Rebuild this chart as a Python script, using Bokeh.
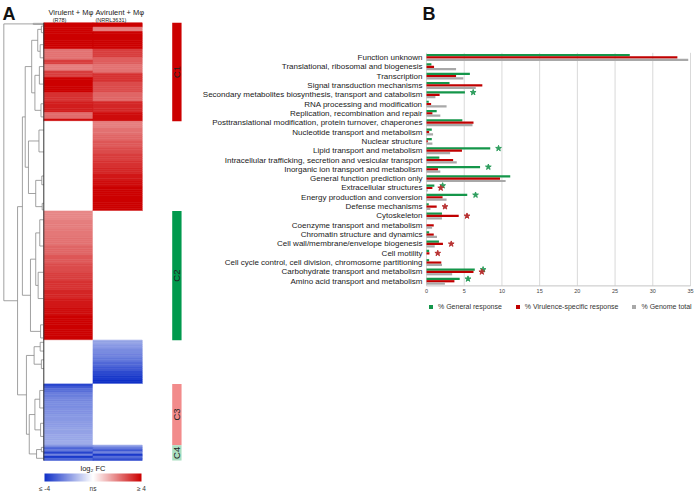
import numpy as np
from bokeh.plotting import figure
from bokeh.models import (Range1d, LinearColorMapper, ColorBar, FixedTicker,
                          ColumnDataSource, Legend, LegendItem, Label)
from bokeh.transform import dodge, transform
from bokeh.embed import file_html
from bokeh.resources import INLINE
from bokeh.core.properties import value

FONT = "Liberation Sans"

# ---------------- Panel A data ----------------
conditions = ["Virulent + Mφ", "Avirulent + Mφ"]
strains = ["(R78)", "(NRRL3631)"]

# heatmap rows (top to bottom), run-length encoded log2 FC; 0 = not significant
vir_fc = [4.0, 2.2, 3.0, 2.0, 3.0, 4.0, 3.2, 3.5, 2.3, 3.8,
          0.0,
          1.9, 2.0, 2.1, 2.2, 2.4, 2.6, 2.8, 3.0, 3.2, 3.4, 3.6, 3.8, 4.0,
          0.0,
          -3.6, -3.2, -2.8, -2.5, -2.3, -2.2, -2.1, -2.0, -1.9, -1.8, -1.7, -1.6,
          -2.2, -3.0, -2.6, -3.6, -2.4, -3.8, -3.0]
vir_n = [12, 5, 2, 3, 3, 7, 4, 5, 3, 1,
         41,
         4, 4, 4, 4, 4, 4, 4, 4, 4, 4, 4, 4, 11,
         20,
         1, 1, 2, 2, 2, 3, 3, 3, 3, 3, 3, 2,
         1, 1, 1, 1, 1, 1, 1]
avir_fc = [4.0, 2.0, 4.0, 3.0, 2.5, 2.2, 3.2, 2.8, 2.4, 3.4, 3.8,
           2.0, 2.2, 2.4, 2.6, 2.8, 3.0, 3.2, 3.4, 3.6, 3.8, 4.0,
           0.0,
           -1.8, -2.0, -2.2, -2.4, -2.6, -2.9, -3.2, -3.5, -3.8, -4.0,
           0.0,
           -2.0, -2.6, -3.2, -2.4, -3.8, -2.8, -3.4]
avir_n = [2, 2, 8, 4, 3, 4, 4, 5, 4, 5, 4,
          3, 3, 3, 3, 3, 3, 3, 3, 3, 3, 11,
          59,
          2, 2, 2, 2, 2, 2, 2, 2, 2, 2,
          28,
          1, 1, 1, 1, 1, 1, 1]

clusters = ["C1", "C2", "C3", "C4"]
cluster_first_row = [0, 86, 165, 193]
cluster_n_rows = [45, 59, 28, 7]

fc_ticks = [-4, 0, 4]
fc_tick_labels = ["≤ -4", "ns", "≥ 4"]

# dendrogram links: node height, upper child row/height, lower child row/height
dend_h = [9.9, 2.6, 6.5, 5.3, 4.6, 3.0, 1.5, 0.6, 0.9, 2.2, 1.1, 0.7, 3.8, 1.2, 2.0, 0.5, 0.4,
          3.3, 2.0, 1.0, 1.4, 0.8, 4.3, 2.4, 0.9, 0.6, 3.6, 2.2, 1.0, 0.8, 1.8, 0.6]
dend_r1 = [0.5, 0.25, 84.0, 43.0, 20.0, 8.0, 3.0, 1.5, 10.0, 24.0, 20.0, 37.0, 54.0, 49.0, 72.0, 70.0, 82.5,
           108.0, 96.0, 90.0, 114.0, 138.0, 152.0, 148.0, 146.0, 154.0, 179.0, 172.0, 168.0, 183.0, 195.0, 194.0]
dend_h1 = [2.6, 0.0, 5.3, 4.6, 3.0, 1.5, 0.6, 0.0, 0.0, 1.1, 0.0, 0.0, 1.2, 0.0, 0.5, 0.0, 0.0,
           2.0, 1.0, 0.0, 0.0, 0.0, 2.4, 0.9, 0.0, 0.0, 2.2, 1.0, 0.0, 0.0, 0.6, 0.0]
dend_r2 = [127.0, 0.75, 170.0, 124.5, 66.0, 32.0, 13.0, 4.5, 16.0, 40.0, 28.0, 43.0, 78.0, 59.0, 84.0, 74.0, 85.5,
           141.0, 120.0, 102.0, 126.0, 144.0, 188.0, 156.0, 150.0, 158.0, 197.0, 186.0, 176.0, 189.0, 199.0, 196.0]
dend_h2 = [6.5, 0.0, 4.3, 3.3, 3.8, 2.2, 0.9, 0.0, 0.0, 0.7, 0.0, 0.0, 2.0, 0.0, 0.4, 0.0, 0.0,
           0.8, 1.4, 0.0, 0.0, 0.0, 3.6, 0.6, 0.0, 0.0, 1.8, 0.8, 0.0, 0.0, 0.0, 0.0]

# ---------------- Panel B data ----------------
cog = ["Function unknown",
       "Translational, ribosomal and biogenesis",
       "Transcription",
       "Signal transduction mechanisms",
       "Secondary metabolites biosynthesis, transport and catabolism",
       "RNA processing and modification",
       "Replication, recombination and repair",
       "Posttranslational modification, protein turnover, chaperones",
       "Nucleotide transport and metabolism",
       "Nuclear structure",
       "Lipid transport and metabolism",
       "Intracellular trafficking, secretion and vesicular transport",
       "Inorganic ion transport and metabolism",
       "General function prediction only",
       "Extracellular structures",
       "Energy production and conversion",
       "Defense mechanisms",
       "Cytoskeleton",
       "Coenzyme transport and metabolism",
       "Chromatin structure and dynamics",
       "Cell wall/membrane/envelope biogenesis",
       "Cell motility",
       "Cell cycle control, cell division, chromosome partitioning",
       "Carbohydrate transport and metabolism",
       "Amino acid transport and metabolism"]
pct_general = [26.95, 0.65, 5.75, 3.05, 5.09, 0.30, 1.35, 4.75, 0.70, 0.70, 8.45, 1.70, 7.10,
               11.10, 1.04, 5.40, 0.30, 2.05, 0.0, 0.35, 1.65, 0.35, 0.35, 6.40, 4.40]
pct_virulence = [33.26, 1.00, 3.92, 7.40, 1.74, 0.61, 0.78, 6.23, 0.35, 0.17, 4.70, 3.53, 1.52,
                 9.75, 0.78, 2.13, 1.35, 4.27, 0.96, 0.96, 2.18, 0.39, 1.96, 6.23, 3.70]
pct_genome = [34.70, 3.92, 4.88, 6.53, 1.18, 2.66, 1.83, 6.10, 0.87, 0.78, 3.13, 4.01, 1.83,
              10.49, 0.17, 2.66, 0.52, 2.05, 0.74, 1.39, 1.09, 0.0, 2.05, 3.40, 2.44]
sig_general = [0, 0, 0, 0, 1, 0, 0, 0, 0, 0, 1, 0, 1, 0, 1, 1, 0, 0, 0, 0, 0, 0, 0, 1, 1]
sig_virulence = [0, 0, 0, 0, 0, 0, 0, 0, 0, 0, 0, 0, 0, 0, 1, 0, 1, 1, 0, 0, 1, 1, 0, 1, 0]
series_names = ["% General response", "% Virulence-specific response", "% Genome total"]
x_ticks = [0, 5, 10, 15, 20, 25, 30, 35]

# ---------------- styles ----------------
GREEN = "#14964a"
RED = "#c00000"
GREY = "#a8a8a8"
CLUSTER_COLORS = ["#cc0000", "#00994d", "#f28b8b", "#a9dec0"]
DEND_COLOR = "#8a8a8a"
TXT = "#222222"
W, H = 696, 496


def ramp(c0, c1, n):
    out = []
    for t in np.linspace(0, 1, n):
        out.append("#%02x%02x%02x" % tuple(int(round(a + (b - a) * t)) for a, b in zip(c0, c1)))
    return out


palette = ramp((16, 48, 200), (255, 255, 255), 128) + ramp((255, 255, 255), (204, 0, 0), 128)
mapper = LinearColorMapper(palette=palette, low=fc_ticks[0], high=fc_ticks[-1])

# one canvas, several scales: A uses (column, row), dendrogram uses "dend", B uses "bx"/"by"
p = figure(width=W, height=H, output_backend="svg", toolbar_location=None,
           x_range=Range1d(-0.880, 13.266), y_range=Range1d(216.45, -10.19),
           x_axis_location=None, y_axis_location=None,
           min_border_left=0, min_border_right=0, min_border_top=0, min_border_bottom=0,
           outline_line_color=None)
p.grid.visible = False
p.extra_x_ranges = {"dend": Range1d(10.72, -161.56), "bx": Range1d(-56.48, 35.795)}
p.extra_y_ranges = {"by": Range1d(47.087, -6.109)}

# ---------------- Panel A ----------------
n_rows = int(sum(vir_n))
cells = dict(left=[], right=[], top=[], bottom=[], fc=[])
for ci, col in enumerate([np.repeat(vir_fc, vir_n), np.repeat(avir_fc, avir_n)]):
    for ri, v in enumerate(col):
        cells["left"].append(ci)
        cells["right"].append(ci + 1)
        cells["top"].append(ri)
        cells["bottom"].append(ri + 1)
        cells["fc"].append(float(v))
p.quad(left="left", right="right", top="top", bottom="bottom", source=ColumnDataSource(cells),
       fill_color=transform("fc", mapper), line_color=transform("fc", mapper), line_width=0.6)

sx0, sy0, sx1, sy1 = [], [], [], []
for h, r1, h1, r2, h2 in zip(dend_h, dend_r1, dend_h1, dend_r2, dend_h2):
    sx0 += [h, h, h]
    sy0 += [r1, r1, r2]
    sx1 += [h, h1, h2]
    sy1 += [r2, r1, r2]
p.segment(x0=sx0, y0=sy0, x1=sx1, y1=sy1, x_range_name="dend", line_color=DEND_COLOR, line_width=0.8)
p.segment(x0=[0], y0=[0], x1=[0], y1=[n_rows], x_range_name="dend", line_color="#333333", line_width=1)

ncol = len(conditions)
c_top = cluster_first_row
c_bot = [a + b for a, b in zip(cluster_first_row, cluster_n_rows)]
p.quad(left=ncol + 0.61, right=ncol + 0.80, top=c_top, bottom=c_bot, fill_color=CLUSTER_COLORS, line_color=None)
p.text(x=[ncol + 0.705] * len(clusters), y=[(a + b) / 2 for a, b in zip(c_top, c_bot)], text=clusters,
       angle=np.pi / 2, text_align="center", text_baseline="middle",
       text_font=value(FONT), text_font_size=value("9.5px"), text_color=TXT)

p.text(x=[0.095, 1.05], y=[-4.7, -4.7], text=conditions, text_align="left", text_baseline="middle",
       text_font=value(FONT), text_font_size=value("7.5px"), text_color=TXT)
p.text(x=[0.18, 1.05], y=[-1.5, -1.5], text=strains, text_align="left", text_baseline="middle",
       text_font=value(FONT), text_font_size=value("5.5px"), text_color=TXT)
p.text(x=[ncol / 2], y=[203.5], text=["log₂ FC"], text_align="center", text_baseline="middle",
       text_font=value(FONT), text_font_size=value("7.5px"), text_color=TXT)

cbar = ColorBar(color_mapper=mapper, orientation="horizontal", width=97, height=8,
                location=(44, 2), padding=0, margin=0,
                ticker=FixedTicker(ticks=fc_ticks),
                major_label_overrides={t: s for t, s in zip(fc_ticks, fc_tick_labels)},
                major_label_text_font=FONT, major_label_text_font_size="6.5px",
                major_label_text_color="#333333",
                major_tick_line_color=None, major_tick_in=0, major_tick_out=0,
                minor_tick_line_color=None, label_standoff=3,
                bar_line_color=None, border_line_color=None, background_fill_alpha=0)
p.add_layout(cbar)

# ---------------- Panel B ----------------
ncat = len(cog)
idx = list(range(ncat))
src = ColumnDataSource(dict(idx=idx, cat=cog, general=pct_general, virulence=pct_virulence, genome=pct_genome))

p.segment(x0=x_ticks, x1=x_ticks, y0=[-0.5] * len(x_ticks), y1=[ncat - 0.5] * len(x_ticks),
          x_range_name="bx", y_range_name="by", line_color="#d9d9d9", line_width=1)
p.segment(x0=[x_ticks[0]], x1=[x_ticks[-1]], y0=[ncat - 0.5], y1=[ncat - 0.5],
          x_range_name="bx", y_range_name="by", line_color="#c4c4c4", line_width=1)

rg = p.hbar(y=dodge("idx", -0.25), left=0, right="general", height=0.24, source=src,
            x_range_name="bx", y_range_name="by", fill_color=GREEN, line_color=None)
rr = p.hbar(y=dodge("idx", 0.0), left=0, right="virulence", height=0.24, source=src,
            x_range_name="bx", y_range_name="by", fill_color=RED, line_color=None)
ry = p.hbar(y=dodge("idx", 0.25), left=0, right="genome", height=0.24, source=src,
            x_range_name="bx", y_range_name="by", fill_color=GREY, line_color=None)

sg = [i for i, s in enumerate(sig_general) if s]
sv = [i for i, s in enumerate(sig_virulence) if s]
star_g = ColumnDataSource(dict(idx=sg, x=[pct_general[i] + 1.1 for i in sg]))
star_v = ColumnDataSource(dict(idx=sv, x=[pct_virulence[i] + 1.1 for i in sv]))
p.scatter(x="x", y=dodge("idx", -0.25), source=star_g, marker="star", size=6,
          x_range_name="bx", y_range_name="by", fill_color="#2e9e5e", line_color="#2e9e5e")
p.scatter(x="x", y=dodge("idx", 0.0), source=star_v, marker="star", size=6,
          x_range_name="bx", y_range_name="by", fill_color="#b83232", line_color="#b83232")

p.text(x=[x_ticks[0]] * ncat, y=idx, text=cog, x_offset=-4, text_align="right", text_baseline="middle",
       x_range_name="bx", y_range_name="by",
       text_font=value(FONT), text_font_size=value("8px"), text_color="#1a1a1a")
p.text(x=x_ticks, y=[ncat - 0.5] * len(x_ticks), text=[str(t) for t in x_ticks], y_offset=3,
       text_align="center", text_baseline="top", x_range_name="bx", y_range_name="by",
       text_font=value(FONT), text_font_size=value("5.5px"), text_color="#444444")

legend = Legend(items=[LegendItem(label=series_names[0], renderers=[rg]),
                       LegendItem(label=series_names[1], renderers=[rr]),
                       LegendItem(label=series_names[2], renderers=[ry])],
                orientation="horizontal", location=(428, 186), margin=0, padding=0,
                spacing=13, glyph_width=5, glyph_height=5, label_height=8, label_standoff=5,
                label_text_font=FONT, label_text_font_size="7px", label_text_color="#333333",
                border_line_color=None, background_fill_alpha=0)
p.add_layout(legend)

p.add_layout(Label(x=2, y=H - 3, x_units="screen", y_units="screen", text="A", text_baseline="top",
                   text_font=FONT, text_font_size="18px", text_font_style="bold", text_color="#111111"))
p.add_layout(Label(x=422, y=H - 3, x_units="screen", y_units="screen", text="B", text_baseline="top",
                   text_font=FONT, text_font_size="18px", text_font_style="bold", text_color="#111111"))

open("out.html", "w").write(file_html(p, INLINE))
